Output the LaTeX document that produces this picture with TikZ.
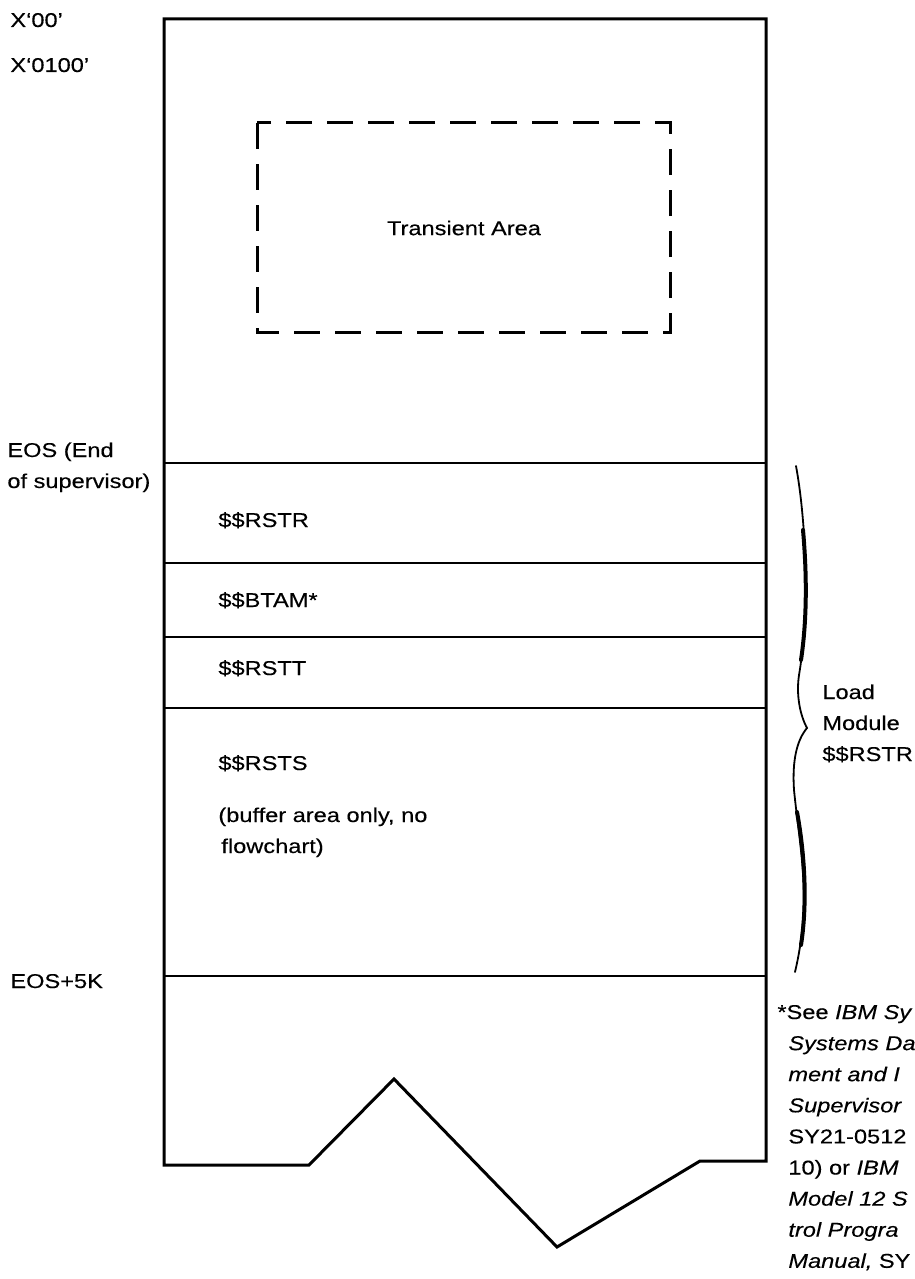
\documentclass[tikz,border=0pt]{standalone}
\usepackage{fontspec}
\setmainfont{Liberation Sans}[FakeStretch=1.18, FakeBold=0.3]
\usetikzlibrary{positioning}

\begin{document}
\begin{tikzpicture}[x=0.5pt, y=-0.5pt, font=\fontsize{10}{15.5}\selectfont,
                    wall/.style={line width=1.5pt, line join=miter},
                    sep/.style={line width=1.2pt},
                    trans/.style={line width=1.5pt, dash pattern=on 13pt off 7.5pt},
                    lbl/.style={anchor=base west, inner sep=0pt},
                    brc/.style={line width=0.9pt, line cap=round},
                    brcthick/.style={line width=2pt, line cap=round}]
  \useasboundingbox (0,0) rectangle (915,1279);
  % storage map outline, broken off at the bottom
  \draw[wall] (164,19) -- (766,19) -- (766,1161) -- (700,1161) -- (557,1247)
              -- (394,1079) -- (309,1165) -- (164,1165) -- cycle;
  \foreach \y in {463,563,637,708,976} \draw[sep] (164,\y) -- (766,\y);
  \draw[trans] (257,123) rectangle (670,332);
  \node (trans) at (464,228) {Transient Area};
  % addresses
  \node[lbl] (x00) at (10,27) {X`00'};
  \node[lbl] (x0100) at (10,72) {X`0100'};
  \node[lbl] (eos) at (7,457) {EOS (End};
  \node[lbl] (eosb) at (7,488) {of supervisor)};
  \node[lbl] (eos5k) at (10,988) {EOS+5K};
  % phases
  \node[lbl] (rstr) at (218,527) {\$\$RSTR};
  \node[lbl] (btam) at (218,607) {\$\$BTAM*};
  \node[lbl] (rstt) at (218,675) {\$\$RSTT};
  \node[lbl] (rsts) at (218,770) {\$\$RSTS};
  \node[lbl] (buf) at (218,822) {(buffer area only, no};
  \node[lbl] (bufb) at (221,853) {flowchart)};
  % load module brace
  \draw[brc] (796,466) .. controls (806,520) and (810,610) .. (799,675)
             .. controls (796,695) and (800,715) .. (807,728)
             .. controls (797,740) and (792,760) .. (794,790)
             .. controls (800,850) and (812,900) .. (795,972);
  \draw[brcthick] (803,530) .. controls (807,575) and (807,620) .. (801,660);
  \draw[brcthick] (797,812) .. controls (804,850) and (808,900) .. (801,945);
  \node[lbl] (load) at (822,699) {Load};
  \node[lbl] (module) at (822,730) {Module};
  \node[lbl] (lmname) at (822,761) {\$\$RSTR};
  % footnote
  \node[lbl] (note) at (777,1019) {*See \textit{IBM Sy}};
  \foreach \ln [count=\i] in {\textit{Systems Da}, \textit{ment and I}, \textit{Supervisor},
                              SY21-0512, 10) or \textit{IBM}, \textit{Model 12 S},
                              \textit{trol Progra}, {\textit{Manual,} SY}}
    \node[lbl] (note\i) at (788,1019+31.1*\i) {\ln};
\end{tikzpicture}
\end{document}
